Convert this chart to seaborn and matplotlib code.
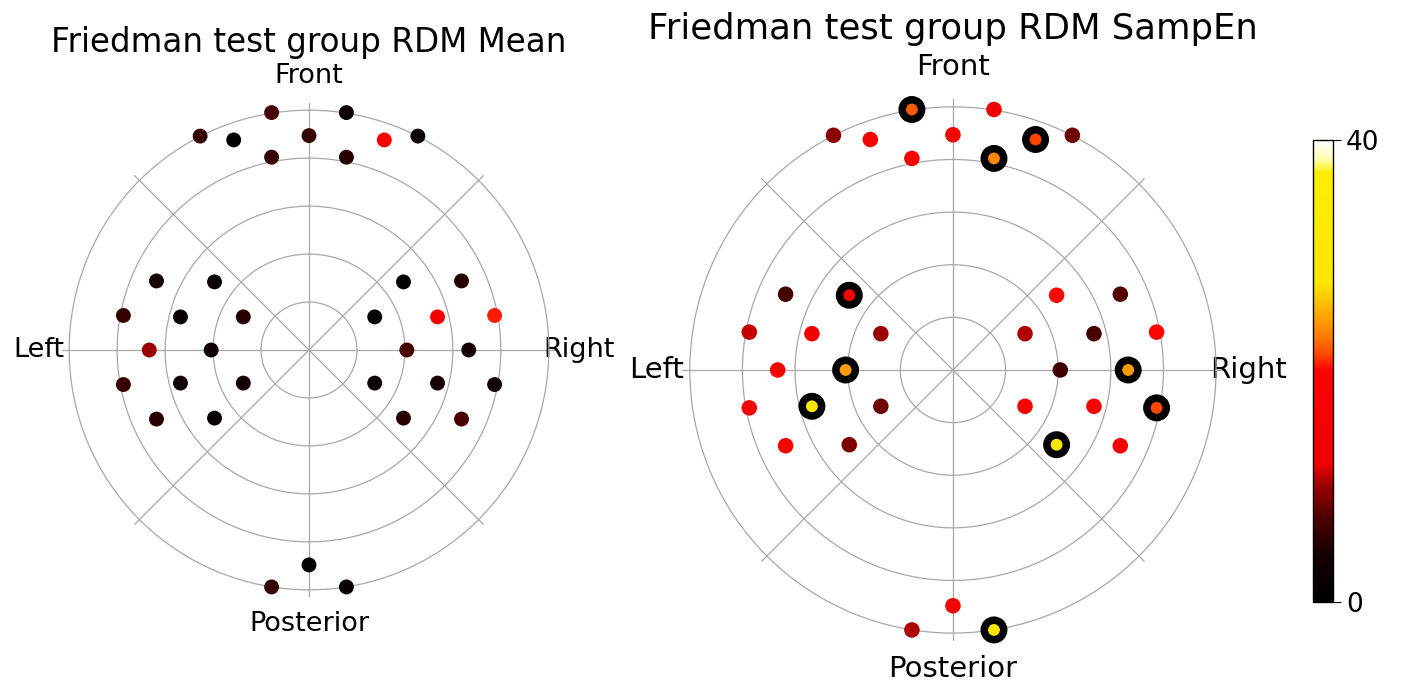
import numpy as np
import pandas as pd
import matplotlib
matplotlib.use("Agg")
import matplotlib.pyplot as plt
from matplotlib.colors import LinearSegmentedColormap, Normalize
import matplotlib.cm as cm
import seaborn as sns

sns.set_style("white")
plt.rcParams['font.family'] = ['DejaVu Sans']
plt.rcParams['text.color'] = 'black'
plt.rcParams['xtick.color'] = 'black'
plt.rcParams['ytick.color'] = 'black'
plt.rcParams['axes.labelcolor'] = 'black'

# Electrode layout (x: left-right, y: posterior-front), in ring units
elec_x = [-0.78, 0.78, -2.27, -1.57, 0.0, 1.57, 2.27, -0.78, 0.78,
          -3.18, -1.97, 1.97, 3.18,
          -3.87, -2.68, -1.37, 1.37, 2.68, 3.87,
          -3.33, -2.04, 2.04, 3.33,
          -3.87, -2.68, -1.37, 1.37, 2.68, 3.87,
          -3.18, -1.97, 1.97, 3.18,
          0.0, -0.78, 0.78]
elec_y = [4.95, 4.95, 4.46, 4.38, 4.47, 4.38, 4.46, 4.02, 4.02,
          1.44, 1.42, 1.42, 1.44,
          0.72, 0.69, 0.69, 0.69, 0.69, 0.72,
          0.0, 0.0, 0.0, 0.0,
          -0.72, -0.69, -0.69, -0.69, -0.69, -0.72,
          -1.44, -1.42, -1.42, -1.44,
          -4.48, -4.94, -4.94]

# Friedman statistic per electrode
mean_vals = [7, 2, 6, 1, 6, 16, 2, 6, 5,
             4, 2, 1, 5,
             6, 2, 5, 1, 16, 20.5,
             10, 3, 7, 4,
             6, 3, 4, 2, 4, 3,
             5, 2, 5, 7,
             1, 6, 2]
sampen_vals = [22, 12, 9.5, 15, 15, 21.5, 8.5, 15, 23.5,
               7, 17, 20, 7.5,
               11, 15, 10, 10.5, 7, 20,
               15, 24.5, 6.5, 24.5,
               15, 30, 8.5, 15, 15, 21.5,
               15, 9, 28.5, 15,
               15, 10.5, 29]
sampen_sig = [0, 5, 8, 10, 20, 22, 24, 28, 31, 35]

theta_labels = ['Right', '', 'Front', '', 'Left', '', 'Posterior', '']
titles = ['Friedman test group RDM Mean', 'Friedman test group RDM SampEn']
vmin, vmax = 0, 40

cmap = LinearSegmentedColormap.from_list('stat', [
    (0.0, (0, 0, 0)), (0.10, (0.08, 0, 0)), (0.18, (0.3, 0, 0)),
    (0.25, (0.6, 0, 0)), (0.30, (0.95, 0, 0)), (0.50, (1, 0, 0)),
    (0.54, (1, 0.3, 0)), (0.58, (1, 0.5, 0)), (0.64, (1, 0.72, 0)),
    (0.69, (1, 0.9, 0)), (0.93, (1, 0.93, 0)), (0.96, (1, 1, 0.7)),
    (1.0, (1, 1, 1))])

fig = plt.figure(figsize=(14.02, 6.83), dpi=100)

def make_df(vals):
    x = np.array(elec_x); y = np.array(elec_y)
    return pd.DataFrame({'theta': np.arctan2(y, x), 'r': np.hypot(x, y),
                         'val': vals})

def setup(ax, fs_lab, fs_title, title, pad_title, pad_h, pad_top, pad_bot):
    ax.set_rlim(0, 5.15)
    ax.set_rticks([1, 2, 3, 4, 5])
    ax.set_yticklabels([])
    ax.set_thetagrids(np.arange(0, 360, 45), theta_labels, fontsize=fs_lab)
    ticks = ax.xaxis.get_major_ticks()
    for i, t in enumerate(ticks):
        t.set_pad(pad_top if i == 2 else pad_bot if i == 6 else pad_h)
    ax.spines['polar'].set_visible(False)
    ax.grid(True, color='#a8a8a8', linewidth=0.9)
    ax.set_title(title, fontsize=fs_title, pad=pad_title, color='black')
    ax.set_xlabel(''); ax.set_ylabel('')

# Left: Mean
ax1 = fig.add_axes([0.0442, 0.1259, 0.3524, 0.7233], projection='polar')
df1 = make_df(mean_vals)
sns.scatterplot(data=df1, x='theta', y='r', hue='val', palette=cmap,
                hue_norm=(vmin, vmax), s=115, linewidth=0, legend=False,
                clip_on=False, ax=ax1)
setup(ax1, 19.5, 23.5, titles[0], 37, 6, 9, 9)

# Right: SampEn
ax2 = fig.add_axes([0.4864, 0.0615, 0.3866, 0.7936], projection='polar')
df2 = make_df(sampen_vals)
sig = df2.index.isin(sampen_sig)
sns.scatterplot(data=df2[sig], x='theta', y='r', hue='val', palette=cmap,
                hue_norm=(vmin, vmax), s=196, edgecolor='black', linewidth=5.4,
                legend=False, clip_on=False, ax=ax2)
sns.scatterplot(data=df2[~sig], x='theta', y='r', hue='val', palette=cmap,
                hue_norm=(vmin, vmax), s=125, linewidth=0, legend=False,
                clip_on=False, ax=ax2)
setup(ax2, 21, 25.5, titles[1], 43, 7.5, 12.5, 9.5)

# Colorbar
cax = fig.add_axes([0.9365, 0.1186, 0.01427, 0.6764])
sm = cm.ScalarMappable(norm=Normalize(vmin, vmax), cmap=cmap)
cb = fig.colorbar(sm, cax=cax, ticks=[0, 40])
cb.ax.tick_params(labelsize=19, length=6, color='black', labelcolor='black')
cb.outline.set_linewidth(1)
cb.outline.set_edgecolor('black')

fig.savefig('out.png', dpi=100)
